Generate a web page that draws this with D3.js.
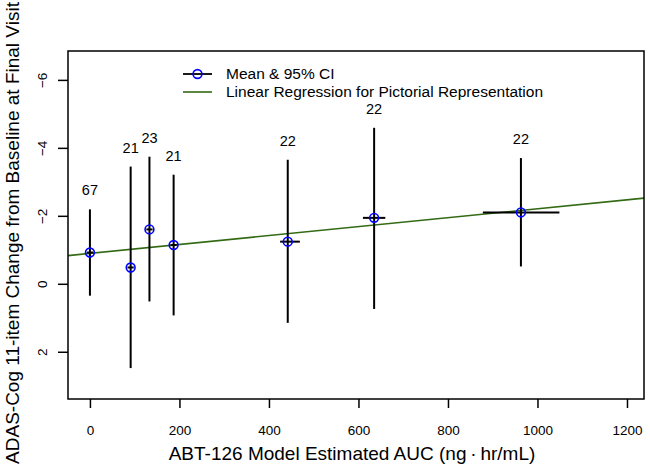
<!DOCTYPE html>
<html><head><meta charset="utf-8">
<script src="https://cdn.jsdelivr.net/npm/d3@7"></script>
<style>body{margin:0;background:#fff}svg{display:block}text{font-family:"Liberation Sans",Arial,sans-serif;fill:#000}</style>
</head><body><svg id="c" width="650" height="469"></svg>
<script>
// Data
const auc     = [0, 91, 133, 187, 442, 635, 963];
const aucLo   = [-7, 84, 126, 180, 425, 610, 878];
const aucHi   = [7, 98, 140, 194, 469, 660, 1049];
const meanChg = [-0.92, -0.48, -1.60, -1.14, -1.24, -1.94, -2.10];
const ciLo    = [-2.19, -3.45, -3.74, -3.21, -3.65, -4.59, -3.70];
const ciHi    = [0.35, 2.48, 0.52, 0.93, 1.15, 0.74, -0.51];
const nLabels = ["67", "21", "23", "21", "22", "22", "22"];
const regX    = [-49, 1238];
const regY    = [-0.83, -2.52];
const xTicks  = [0, 200, 400, 600, 800, 1000, 1200];
const yTicks  = [-6, -4, -2, 0, 2];
const legendLabels = ["Mean & 95% CI", "Linear Regression for Pictorial Representation"];

const svg = d3.select("#c");
const L = 68, R = 644, T = 51, B = 399;
const x = d3.scaleLinear().domain([-49, 1238]).range([L, R]);
const y = d3.scaleLinear().domain([-6.85, 3.39]).range([T, B]);

// regression line
svg.append("line")
  .attr("x1", x(regX[0])).attr("x2", x(regX[1]))
  .attr("y1", y(regY[0])).attr("y2", y(regY[1]))
  .attr("stroke", "#336a14").attr("stroke-width", 1.6);

const g = svg.append("g");
auc.forEach((v, i) => {
  g.append("line").attr("x1", x(v)).attr("x2", x(v)).attr("y1", y(ciLo[i])).attr("y2", y(ciHi[i]))
    .attr("stroke", "#000").attr("stroke-width", 2);
  g.append("line").attr("x1", x(aucLo[i])).attr("x2", x(aucHi[i])).attr("y1", y(meanChg[i])).attr("y2", y(meanChg[i]))
    .attr("stroke", "#000").attr("stroke-width", 2);
  g.append("circle").attr("cx", x(v)).attr("cy", y(meanChg[i])).attr("r", 4.4)
    .attr("fill", "none").attr("stroke", "#0000ff").attr("stroke-width", 1.6);
  g.append("text").attr("x", x(v)).attr("y", y(ciLo[i]) - 14)
    .attr("text-anchor", "middle").attr("font-size", 14.5).text(nLabels[i]);
});

// box
svg.append("rect").attr("x", L).attr("y", T).attr("width", R - L).attr("height", B - T)
  .attr("fill", "none").attr("stroke", "#000").attr("stroke-width", 1.5);

// x axis
const xa = svg.append("g").attr("transform", `translate(0,${B})`)
  .call(d3.axisBottom(x).tickValues(xTicks).tickSize(9).tickPadding(17).tickFormat(d3.format("d")));
xa.select(".domain").remove();
xa.selectAll("line").attr("stroke-width", 1.5);
xa.selectAll("text").attr("font-size", 13.5).attr("font-family", '"Liberation Sans",Arial,sans-serif');

// y axis
const ya = svg.append("g").attr("transform", `translate(${L},0)`)
  .call(d3.axisLeft(y).tickValues(yTicks).tickSize(10).tickFormat(d3.format("d")));
ya.select(".domain").remove();
ya.selectAll("line").attr("stroke-width", 1.5);
ya.selectAll("text").remove();
ya.selectAll(".tick").append("text")
  .attr("transform", "translate(-26,0) rotate(-90)")
  .attr("text-anchor", "middle").attr("dy", "0.35em")
  .attr("font-size", 13.5).attr("fill", "#000")
  .text(d => d3.format("d")(d));

// titles
svg.append("text").attr("x", 352).attr("y", 460).attr("text-anchor", "middle")
  .attr("font-size", 19).text("ABT-126 Model Estimated AUC (ng\u2009\u00b7\u2009hr/mL)");
svg.append("text").attr("transform", `translate(19,${(T + B) / 2 + 8}) rotate(-90)`)
  .attr("text-anchor", "middle").attr("font-size", 19)
  .text("ADAS-Cog 11-item Change from Baseline at Final Visit");

// legend
const lg = svg.append("g");
const ly = [74, 92];
lg.append("line").attr("x1", 183).attr("x2", 212).attr("y1", ly[0]).attr("y2", ly[0]).attr("stroke", "#000").attr("stroke-width", 1.8);
lg.append("circle").attr("cx", 197.5).attr("cy", ly[0]).attr("r", 4.4).attr("fill", "none").attr("stroke", "#0000ff").attr("stroke-width", 1.6);
lg.append("line").attr("x1", 183).attr("x2", 212).attr("y1", ly[1]).attr("y2", ly[1]).attr("stroke", "#336a14").attr("stroke-width", 1.6);
legendLabels.forEach((t, i) => {
  lg.append("text").attr("x", 226).attr("y", ly[i]).attr("dy", "0.35em").attr("font-size", 15.5).text(t);
});
</script></body></html>
